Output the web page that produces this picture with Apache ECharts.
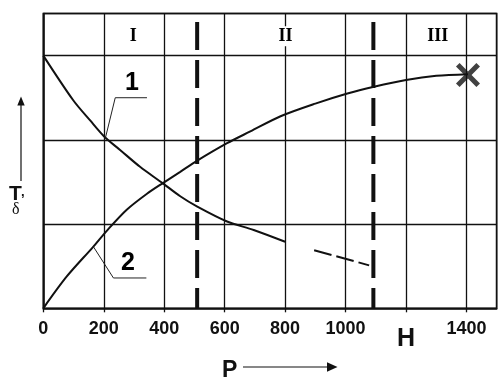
<!DOCTYPE html>
<html>
<head>
<meta charset="utf-8">
<script src="https://cdn.jsdelivr.net/npm/echarts@6/dist/echarts.min.js"></script>
<style>
html,body{margin:0;padding:0;background:#fff;}
#chart{width:500px;height:380px;}
</style>
</head>
<body>
<div id="chart"></div>
<script>
// ---- data ----
var xTicks = [0, 200, 400, 600, 800, 1000, 1200, 1400];
var xTickLabels = ['0', '200', '400', '600', '800', '1000', 'H', '1400'];

var curve1X = [0, 99, 155, 204, 254, 320, 397, 453, 508, 608, 696, 800];
var curve1Y = [3.0, 2.47, 2.23, 2.03, 1.88, 1.68, 1.48, 1.33, 1.21, 1.03, 0.93, 0.79];

var curve1ExtX = [896, 1078];
var curve1ExtY = [0.69, 0.51];

var curve2X = [0, 77, 165, 210, 276, 343, 397, 453, 508, 608, 685, 785, 900, 1006, 1094, 1200, 1300, 1405];
var curve2Y = [0, 0.375, 0.73, 0.92, 1.17, 1.36, 1.49, 1.62, 1.75, 1.96, 2.10, 2.28, 2.43, 2.55, 2.63, 2.71, 2.76, 2.78];

var endMarkX = [1405];
var endMarkY = [2.77];

var boundaryX = [509, 1092];
var boundaryTop = 3.4;

var zoneNames = ['I', 'II', 'III'];
var zoneX = [298, 801, 1305];
var zoneY = 3.23;

var curveNames = ['1', '2'];
var curveNameX = [293, 280];
var curveNameY = [2.67, 0.54];

var leader1X = [343, 238, 206];
var leader1Y = [2.50, 2.50, 2.03];
var leader2X = [166, 232, 341];
var leader2Y = [0.73, 0.36, 0.36];

// ---- build ----
function zip(xs, ys) { return xs.map(function (x, i) { return [x, ys[i]]; }); }

var INK = '#111';
var series = [];

boundaryX.forEach(function (bx) {
  series.push({
    type: 'line', data: [[bx, boundaryTop], [bx, 0]], symbol: 'none', silent: true,
    lineStyle: { color: INK, width: 4, type: [28, 10] }, z: 3
  });
});

series.push({
  type: 'line', data: zip(curve1X, curve1Y), symbol: 'none', smooth: 0.3,
  lineStyle: { color: INK, width: 2 }, z: 4
});
series.push({
  type: 'line', data: zip(curve1ExtX, curve1ExtY), symbol: 'none',
  lineStyle: { color: INK, width: 2, type: [18, 5] }, z: 4
});
series.push({
  type: 'line', data: zip(curve2X, curve2Y), symbol: 'none', smooth: 0.3,
  lineStyle: { color: INK, width: 2 }, z: 4
});
series.push({
  type: 'line', data: zip(leader1X, leader1Y), symbol: 'none',
  lineStyle: { color: '#222', width: 1 }, z: 4
});
series.push({
  type: 'line', data: zip(leader2X, leader2Y), symbol: 'none',
  lineStyle: { color: '#222', width: 1 }, z: 4
});
series.push({
  type: 'scatter', data: zip(endMarkX, endMarkY),
  symbol: 'path://M0.15,0 L0.5,0.35 L0.85,0 L1,0.15 L0.65,0.5 L1,0.85 L0.85,1 L0.5,0.65 L0.15,1 L0,0.85 L0.35,0.5 L0,0.15 Z',
  symbolSize: 24, itemStyle: { color: INK }, z: 6
});

var staticGraphics = [
  { type: 'text', left: 9, top: 184, style: { text: 'T', font: 'bold 21px "Liberation Sans"', fill: INK } },
  { type: 'text', left: 21, top: 186, style: { text: ',', font: 'bold 13px "Liberation Sans"', fill: INK } },
  { type: 'text', left: 12, top: 202, style: { text: 'δ', font: '16px "Liberation Serif"', fill: INK } },
  { type: 'line', shape: { x1: 21, y1: 181, x2: 21, y2: 104 }, style: { stroke: INK, lineWidth: 1.2 } },
  { type: 'polygon', shape: { points: [[21, 96.5], [17.3, 105.5], [24.7, 105.5]] }, style: { fill: INK } },
  { type: 'text', left: 222, top: 359, style: { text: 'P', font: 'bold 23px "Liberation Sans"', fill: INK } },
  { type: 'line', shape: { x1: 243, y1: 367, x2: 328, y2: 367 }, style: { stroke: INK, lineWidth: 1.2 } },
  { type: 'polygon', shape: { points: [[337.5, 367], [327, 362.3], [327, 371.7]] }, style: { fill: INK } }
];

var chart = echarts.init(document.getElementById('chart'), null, { renderer: 'canvas' });
chart.setOption({
  backgroundColor: '#fff',
  animation: false,
  grid: { left: 43.3, right: 3.3, top: 13.5, bottom: 71.7, show: true, borderColor: INK, borderWidth: 1.6, backgroundColor: 'transparent' },
  xAxis: {
    type: 'value', min: 0, max: 1500, interval: 200,
    axisLine: { show: true, lineStyle: { color: INK, width: 1.6 } },
    axisTick: { show: true, length: 4, lineStyle: { color: INK, width: 1.3 } },
    splitLine: { show: true, lineStyle: { color: INK, width: 1.3 } },
    axisLabel: {
      margin: 12, color: INK, fontFamily: 'Liberation Sans', fontWeight: 'bold', fontSize: 18,
      showMaxLabel: false,
      formatter: function (v) {
        var i = xTicks.indexOf(v);
        if (i < 0) return '';
        var t = xTickLabels[i];
        return t === 'H' ? '{h|H}' : t;
      },
      rich: { h: { fontFamily: 'Liberation Sans', fontWeight: 'bold', fontSize: 25, color: INK, padding: [6, 0, 0, 0] } }
    }
  },
  yAxis: {
    type: 'value', min: 0, max: 3.5, interval: 1,
    axisLine: { show: true, lineStyle: { color: INK, width: 1.6 } },
    axisTick: { show: false },
    axisLabel: { show: false },
    splitLine: { show: true, lineStyle: { color: INK, width: 1.3 } }
  },
  series: series,
  graphic: staticGraphics
});

// text annotations placed through the chart's scales
var dyn = [];
zoneNames.forEach(function (n, i) {
  var p = chart.convertToPixel({ gridIndex: 0 }, [zoneX[i], zoneY]);
  dyn.push({
    type: 'text', x: p[0], y: p[1], z: 10,
    style: {
      text: n, font: 'bold 18px "Liberation Serif"', fill: '#000',
      align: 'center', verticalAlign: 'middle', backgroundColor: '#fff', padding: [1, 2]
    }
  });
});
curveNames.forEach(function (n, i) {
  var p = chart.convertToPixel({ gridIndex: 0 }, [curveNameX[i], curveNameY[i]]);
  dyn.push({
    type: 'text', x: p[0], y: p[1], z: 10,
    style: { text: n, font: 'bold 25px "Liberation Sans"', fill: '#000', align: 'center', verticalAlign: 'middle' }
  });
});
chart.setOption({ graphic: staticGraphics.concat(dyn) });
</script>
</body>
</html>
